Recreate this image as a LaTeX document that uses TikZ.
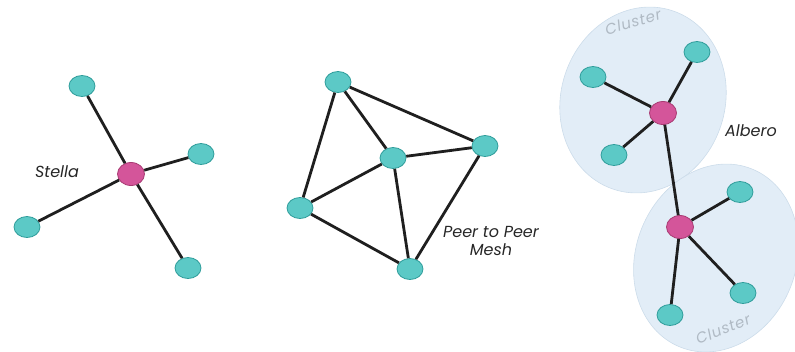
\documentclass[tikz,border=0pt]{standalone}
\usepackage{fontspec}
\setmainfont{Poppins}
\newfontfamily\clfont{Poppins}[LetterSpace=5]
\usetikzlibrary{shapes.geometric}
\definecolor{teal1}{HTML}{5CC9C6}
\definecolor{teal2}{HTML}{2E9C9A}
\definecolor{pink1}{HTML}{D4559A}
\definecolor{pink2}{HTML}{A83A72}
\definecolor{clfill}{HTML}{E2EDF7}
\definecolor{clline}{HTML}{CCDCEA}
\definecolor{cltext}{HTML}{B0BAC4}
\tikzset{
  leaf/.style={ellipse,fill=teal1,draw=teal2,line width=0.8pt,minimum width=26pt,minimum height=21pt,inner sep=0pt},
  hub/.style={ellipse,fill=pink1,draw=pink2,line width=0.8pt,minimum width=27pt,minimum height=23pt,inner sep=0pt},
  link/.style={line width=2.8pt,black!88},
  lbl/.style={font=\itshape\fontsize{16}{18}\selectfont,text=black!85,inner sep=1pt},
  cl/.style={font=\clfont\itshape\fontsize{15}{18}\selectfont,text=cltext,inner sep=1pt},
  cloud/.style={fill=clfill,draw=clline,line width=0.6pt}
}
\begin{document}
\begin{tikzpicture}[x=1pt,y=-1pt]
\useasboundingbox (0,0) rectangle (795,351);
% cluster ellipses
\draw[cloud,rotate around={-18:(643,100)}] (643,100) ellipse (82 and 94);
\draw[cloud,rotate around={-22:(716,258)}] (716,258) ellipse (80 and 96);
\node[cl,rotate=16] (c1) at (633,22) {Cluster};
\node[cl,rotate=22] (c2) at (723,329) {Cluster};
% star
\node[hub] (s0) at (131,174) {};
\node[leaf] (s1) at (82,86) {};
\node[leaf] (s2) at (201,154) {};
\node[leaf] (s3) at (27,227) {};
\node[leaf] (s4) at (188,268) {};
\node[lbl] (st) at (57,172) {Stella};
% mesh
\node[leaf] (m1) at (338,82) {};
\node[leaf] (m2) at (485,146) {};
\node[leaf] (m3) at (393,158) {};
\node[leaf] (m4) at (300,208) {};
\node[leaf] (m5) at (410,269) {};
\node[lbl,align=center] (mt) at (491,241) {Peer to Peer\\Mesh};
% tree
\node[hub] (t0) at (663,113) {};
\node[leaf] (t1) at (593,77) {};
\node[leaf] (t2) at (697,52) {};
\node[leaf] (t3) at (614,155) {};
\node[hub] (u0) at (680,227) {};
\node[leaf] (u1) at (740,192) {};
\node[leaf] (u2) at (743,293) {};
\node[leaf] (u3) at (670,315) {};
\node[lbl] (al) at (751,131) {Albero};
% links
\draw[link] (s0) -- (s1) (s0) -- (s2) (s0) -- (s3) (s0) -- (s4);
\draw[link] (m1) -- (m2) (m1) -- (m3) (m1) -- (m4) (m3) -- (m2) (m3) -- (m4) (m3) -- (m5) (m4) -- (m5) (m2) -- (m5);
\draw[link] (t0) -- (t1) (t0) -- (t2) (t0) -- (t3) (t0) -- (u0) (u0) -- (u1) (u0) -- (u2) (u0) -- (u3);
\end{tikzpicture}
\end{document}
